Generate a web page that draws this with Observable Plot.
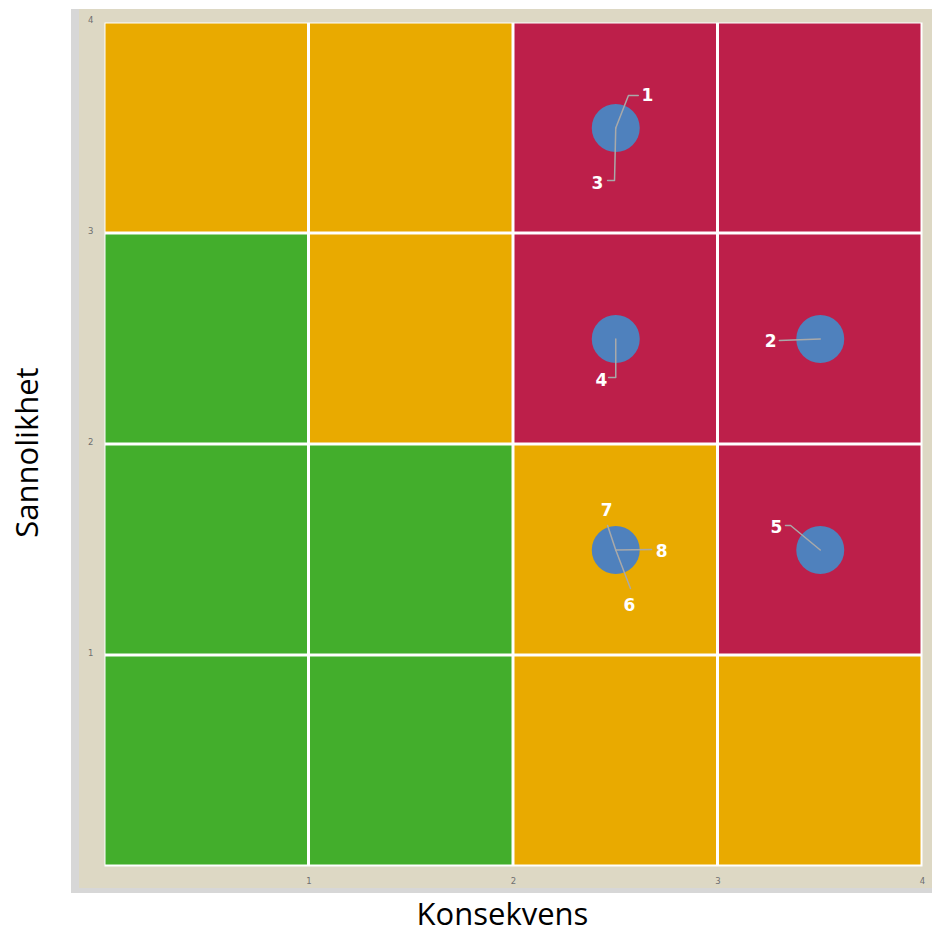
<!DOCTYPE html>
<html>
<head>
<meta charset="utf-8">
<script src="https://cdn.jsdelivr.net/npm/d3@7"></script>
<script src="https://cdn.jsdelivr.net/npm/@observablehq/plot@0.6"></script>
<style>
  html, body { margin: 0; padding: 0; background: #ffffff; }
  #wrap { position: relative; width: 932px; height: 942px; overflow: hidden; }
  #shadow { position: absolute; left: 71px; top: 9px; width: 861px; height: 884px; background: #d7d7d7; }
  #panel { position: absolute; left: 79px; top: 9px; width: 853px; height: 879px; background: #ddd8c4; }
  #chart { position: absolute; left: 0; top: 0; }
</style>
</head>
<body>
<div id="wrap">
  <div id="shadow"></div>
  <div id="panel"></div>
  <div id="chart"></div>
</div>
<script>
// Consequence (x) and likelihood (y) bands
const consequenceBands = [0, 1, 2, 3];
const likelihoodBands = [0, 1, 2, 3];
// Risk level of each cell, rows from likelihood 0-1 (bottom) to 3-4 (top)
const riskLevels = [
  ["low",    "low",    "medium", "medium"],
  ["low",    "low",    "medium", "high"],
  ["low",    "medium", "high",   "high"],
  ["medium", "medium", "high",   "high"]
];
const levelNames = ["low", "medium", "high"];
const levelColors = ["#43ae2c", "#e9aa00", "#bd1f4a"];

// Risk positions (bubbles)
const riskX = [2.5, 3.5, 2.5, 2.5, 3.5];
const riskY = [3.5, 2.5, 2.5, 1.5, 1.5];

// Risk labels and their leader lines (in data units)
const labelIds = ["1", "3", "4", "2", "5", "7", "8", "6"];
const labelX   = [2.655, 2.41, 2.43, 3.257, 3.286, 2.455, 2.724, 2.567];
const labelY   = [3.654, 3.237, 2.303, 2.488, 1.607, 1.687, 1.493, 1.237];
const leaderPaths = [
  [[2.5, 3.5], [2.562, 3.654], [2.61, 3.654]],
  [[2.5, 3.5], [2.494, 3.251], [2.46, 3.251]],
  [[2.5, 2.5], [2.5, 2.318], [2.465, 2.318]],
  [[3.5, 2.5], [3.30, 2.493]],
  [[3.5, 1.5], [3.355, 1.616], [3.33, 1.616]],
  [[2.5, 1.5], [2.46, 1.616]],
  [[2.5, 1.5], [2.675, 1.502]],
  [[2.5, 1.5], [2.572, 1.318]]
];

const xTicks = [1, 2, 3, 4];
const yTicks = [1, 2, 3, 4];
const xTitle = "Konsekvens";
const yTitle = "Sannolikhet";

// Build tables
const cells = [];
likelihoodBands.forEach((y, i) => consequenceBands.forEach((x, j) => {
  cells.push({x1: x, x2: x + 1, y1: y, y2: y + 1, level: riskLevels[i][j]});
}));
const risks = riskX.map((x, i) => ({x, y: riskY[i]}));
const labels = labelIds.map((id, i) => ({id, x: labelX[i], y: labelY[i]}));
const leaders = leaderPaths.flatMap((p, k) => p.map(([x, y]) => ({x, y, k})));

const chart = Plot.plot({
  width: 932,
  height: 942,
  marginLeft: 104,
  marginRight: 10,
  marginTop: 22,
  marginBottom: 76,
  style: {background: "transparent", fontFamily: "DejaVu Sans"},
  x: {domain: [0, 4]},
  y: {domain: [0, 4]},
  color: {domain: levelNames, range: levelColors},
  marks: [
    Plot.frame({fill: "#ffffff", stroke: null}),
    Plot.rect(cells, {x1: "x1", x2: "x2", y1: "y1", y2: "y2", fill: "level", inset: 1.5}),
    Plot.axisX(xTicks, {tickSize: 0, tickPadding: 11, fontSize: 8.5, fill: "#6f6f6f", tickFormat: "d", label: null}),
    Plot.axisY(yTicks, {tickSize: 0, tickPadding: 11, fontSize: 8.5, fill: "#6f6f6f", tickFormat: "d", dy: -2, label: null}),
    Plot.dot(risks, {x: "x", y: "y", r: 24, fill: "#4f81bd", stroke: null}),
    Plot.line(leaders, {x: "x", y: "y", z: "k", stroke: "#a9a9a9", strokeWidth: 1.5, curve: "linear"}),
    Plot.text(labels, {x: "x", y: "y", text: "id", fill: "#ffffff", fontSize: 17, fontWeight: "bold", fontFamily: "DejaVu Sans"}),
    Plot.text([xTitle], {frameAnchor: "bottom", textAnchor: "middle", dx: -11, dy: 58, fontSize: 31, fill: "#000", fontFamily: "Open Sans"}),
    Plot.text([yTitle], {frameAnchor: "left", textAnchor: "middle", dx: -76, dy: 8, rotate: -90, fontSize: 31, fill: "#000", fontFamily: "Open Sans"})
  ]
});
document.getElementById("chart").appendChild(chart);
</script>
</body>
</html>
